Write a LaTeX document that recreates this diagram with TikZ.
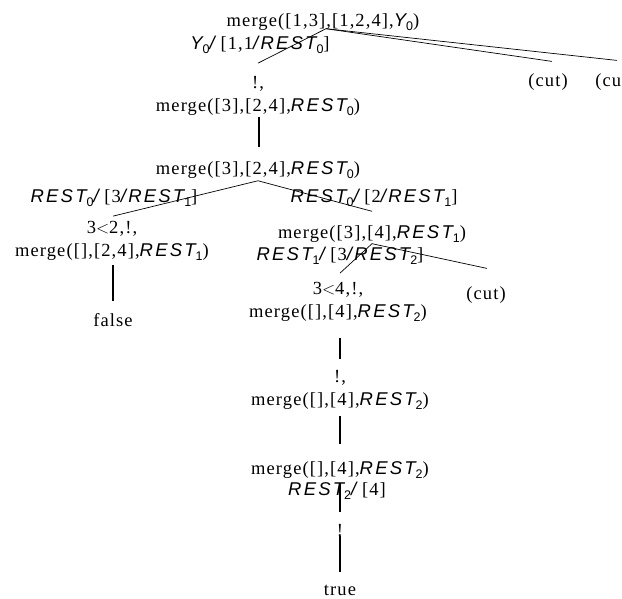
\documentclass[tikz,border=0pt]{standalone}
\usepackage{fontspec}
\setmainfont{Liberation Serif}[LetterSpace=6]
\newfontfamily\varfont{Liberation Sans}[LetterSpace=12]
\newfontfamily\idxfont{Liberation Sans}
% logic variable with a numeric index, e.g. REST_0
\newcommand\lv[2]{{\varfont\itshape #1}\raisebox{-0.22em}{\idxfont\fontsize{12.5}{13}\selectfont #2}}
\newcommand\vslash{{\varfont\itshape /}}
\begin{document}
\begin{tikzpicture}[x=1pt,y=-1pt,
  goal/.style={font=\fontsize{18.5}{23}\selectfont, align=center, inner sep=0pt},
  subst/.style={font=\fontsize{18.5}{23}\selectfont, inner sep=0pt},
  branch/.style={line width=0.7pt},
  chain/.style={line width=1.8pt}]
\useasboundingbox (0,0) rectangle (622,599);
\clip (0,0) rectangle (622,599);

% goals
\node[goal] (n0) at (323,22) {merge([1,3],[1,2,4],\lv{Y}{0})};
\node[goal] (n1) at (258,96) {!,\\merge([3],[2,4],\lv{REST}{0})};
\node[goal] (n2) at (258,170) {merge([3],[2,4],\lv{REST}{0})};
\node[goal] (n3) at (112,241) {3$<$2,!,\\merge([],[2,4],\lv{REST}{1})};
\node[goal] (nf) at (113,320) {false};
\node[goal] (n4) at (372,234) {merge([3],[4],\lv{REST}{1})};
\node[goal] (n5) at (338,302) {3$<$4,!,\\merge([],[4],\lv{REST}{2})};
\node[goal] (n6) at (340,390) {!,\\merge([],[4],\lv{REST}{2})};
\node[goal] (n7) at (340,470) {merge([],[4],\lv{REST}{2})};
\node[goal] (n8) at (340,531) {!};
\node[goal] (nt) at (340,590) {true};
\node[goal] (c0) at (548,82) {(cut)};
\node[goal] (c1) at (615,82) {(cut)};
\node[goal] (c2) at (486,295) {(cut)};

% substitutions
\node[subst] (l0) at (260,45) {\lv{Y}{0}\vslash\ [1,1\vslash\lv{REST}{0}]};
\node[subst] (lL) at (114,198) {\lv{REST}{0}\vslash\ [3\vslash\lv{REST}{1}]};
\node[subst] (lR) at (374,198) {\lv{REST}{0}\vslash\ [2\vslash\lv{REST}{1}]};
\node[subst] (l4) at (340,256) {\lv{REST}{1}\vslash\ [3\vslash\lv{REST}{2}]};
\node[subst] (l7) at (337,491) {\lv{REST}{2}\vslash\ [4]};

% branches
\draw[branch] ([xshift=3pt,yshift=2pt]n0.south) -- ([yshift=13pt]n1.north);
\draw[branch] ([xshift=3pt,yshift=2pt]n0.south) -- ([xshift=4pt,yshift=12pt]c0.north);
\draw[branch] ([xshift=3pt,yshift=2pt]n0.south) -- ([xshift=2pt,yshift=13pt]c1.north);
\draw[chain] ([xshift=1pt,yshift=-1pt]n1.south) -- ([xshift=1pt,yshift=14pt]n2.north);
\draw[branch] ([yshift=-2pt]n2.south) -- ([xshift=1pt,yshift=5pt]n3.north);
\draw[branch] ([yshift=-2pt]n2.south) -- ([yshift=14pt]n4.north);
\draw[chain] ([xshift=1pt,yshift=-4pt]n3.south) -- ([yshift=12pt]nf.north);
\draw[branch] ([yshift=-1pt]n4.south) -- ([xshift=2pt,yshift=9pt]n5.north);
\draw[branch] ([yshift=-1pt]n4.south) -- ([xshift=1pt,yshift=18pt]c2.north);
\draw[chain] ([xshift=2pt,yshift=-16pt]n5.south) -- ([yshift=11pt]n6.north);
\draw[chain] ([yshift=-6pt]n6.south) -- ([yshift=17pt]n7.north);
\draw[chain] ([yshift=-4pt]n7.south) -- ([yshift=13pt]n8.north);
\draw[chain] ([yshift=1pt]n8.south) -- ([yshift=13pt]nt.north);
\end{tikzpicture}
\end{document}
